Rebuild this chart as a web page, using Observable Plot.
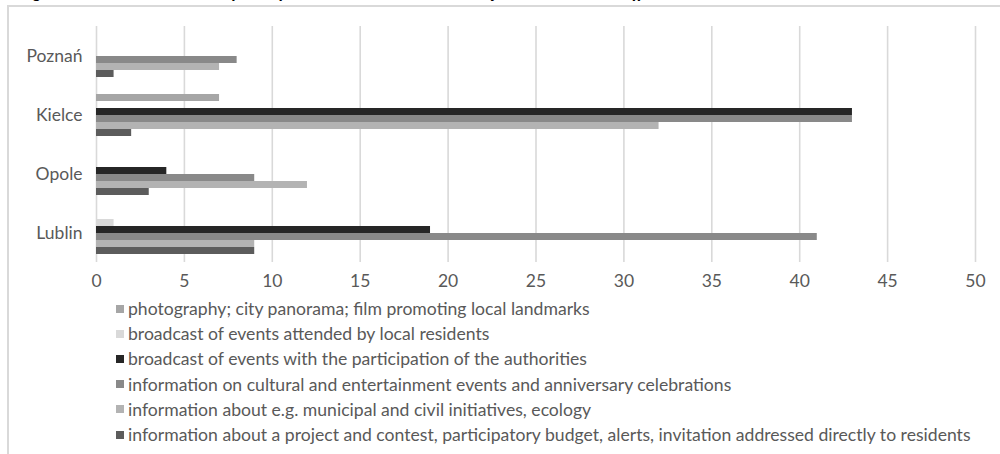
<!DOCTYPE html>
<html>
<head>
<meta charset="utf-8">
<script src="https://cdn.jsdelivr.net/npm/d3@7"></script>
<script src="https://cdn.jsdelivr.net/npm/@observablehq/plot@0.6"></script>
<style>
  html, body { margin: 0; padding: 0; background: #fff; }
  #page { position: relative; width: 1000px; height: 454px; overflow: hidden; background: #fff; }
  #title { position: absolute; left: 0; top: 0; display: block; }
  #frame { position: absolute; left: 7px; top: 5px; right: -4px; bottom: -4px;
           border-top: 2px solid #d9d9d9; border-left: 2px solid #d9d9d9; }
  #chart { position: absolute; left: 0; top: 0; }
  #legend { position: absolute; left: 116px; top: 296px; color: #595959; font-family: Lato, "Open Sans", sans-serif; }
  .row { height: 25.2px; display: flex; align-items: center; white-space: nowrap; }
  .sw { width: 8px; height: 8px; margin-right: 4px; flex: none; }
</style>
</head>
<body>
<div id="page">
  <svg id="title" width="1000" height="10">
    <text x="19" y="-3.5" font-family="Liberation Serif, serif" font-weight="bold" font-style="italic" font-size="16" fill="#000">Figure 6. Main thematic areas of the information disseminated online by selected town hall offices</text>
  </svg>
  <div id="frame"></div>
  <div id="chart"></div>
  <div id="legend"></div>
</div>
<script>
// Cities on the vertical axis, top to bottom
const cities = ["Poznań", "Kielce", "Opole", "Lublin"];

// Post categories (legend order = bar order inside each city group)
const categories = [
  "photography; city panorama; film promoting local landmarks",
  "broadcast of events attended by local residents",
  "broadcast of events with the participation of the authorities",
  "information on cultural and entertainment events and anniversary celebrations",
  "information about e.g. municipal and civil initiatives, ecology",
  "information about a project and contest, participatory budget, alerts, invitation addressed directly to residents"
];

// Number of posts per category, in the order of `cities`
const photography   = [0, 7, 0, 0];
const residents     = [0, 0, 0, 1];
const authorities   = [0, 43, 4, 19];
const cultural      = [8, 43, 9, 41];
const initiatives   = [7, 32, 12, 9];
const participation = [1, 2, 3, 9];

const xTicks = [0, 5, 10, 15, 20, 25, 30, 35, 40, 45, 50];

const colors = ["#a6a6a6", "#d9d9d9", "#262626", "#898989", "#b3b3b3", "#5c5c5c"];

const seriesValues = [photography, residents, authorities, cultural, initiatives, participation];
const table = [];
cities.forEach((city, i) => {
  categories.forEach((cat, j) => {
    table.push({city, category: cat, value: seriesValues[j][i]});
  });
});

const fontFamily = "Lato, 'Open Sans', sans-serif";

const chart = Plot.plot({
  width: 1000,
  height: 290,
  marginLeft: 96,
  marginRight: 25,
  marginTop: 26,
  marginBottom: 28,
  style: {fontFamily, fontSize: "17.5px", color: "#595959", background: "transparent", overflow: "visible"},
  x: {domain: [0, 50]},
  fy: {domain: cities, padding: 0},
  y: {domain: categories, paddingInner: 0, paddingOuter: 0.93, axis: null},
  color: {domain: categories, range: colors},
  marks: [
    Plot.gridX({ticks: xTicks, stroke: "#d9d9d9", strokeOpacity: 1, strokeWidth: 1.6}),
    Plot.barX(table.filter(d => d.value > 0), {x: "value", y: "category", fy: "city", fill: "category"}),
    Plot.axisX({ticks: xTicks, tickSize: 0, tickPadding: 12, label: null, fill: "#595959"}),
    Plot.axisFy({anchor: "left", tickSize: 0, tickPadding: 14, label: null, fill: "#595959"})
  ]
});
document.getElementById("chart").appendChild(chart);

// Legend rows below the chart, sized so the longest entry spans its line
const legend = document.getElementById("legend");
const ctx = document.createElement("canvas").getContext("2d");
ctx.font = `100px ${fontFamily}`;
const longest = d3.max(categories, c => ctx.measureText(c).width);
const legendSize = 100 * 844 / longest;
legend.style.fontSize = legendSize + "px";
categories.forEach((c, i) => {
  const row = document.createElement("div");
  row.className = "row";
  const sw = document.createElement("span");
  sw.className = "sw";
  sw.style.background = colors[i];
  const label = document.createElement("span");
  label.textContent = c;
  row.appendChild(sw);
  row.appendChild(label);
  legend.appendChild(row);
});
</script>
</body>
</html>
